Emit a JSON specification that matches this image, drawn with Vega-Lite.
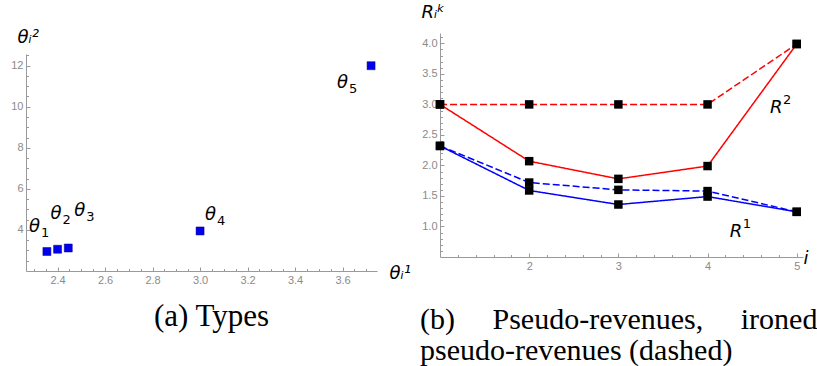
{
  "$schema": "https://vega.github.io/schema/vega-lite/v6.json",
  "padding": {"left": 10, "top": 3, "right": 0, "bottom": 0},
  "bounds": "flush",
  "spacing": 63,
  "config": {
    "view": {"stroke": null},
    "axis": {
      "grid": false,
      "domainColor": "#9a9a9a",
      "domainWidth": 1,
      "tickColor": "#9a9a9a",
      "tickWidth": 1,
      "labelColor": "#8a8a8a",
      "labelFont": "Liberation Sans",
      "labelFontSize": 11,
      "labelFlush": false,
      "labelOverlap": false,
      "titleFont": "DejaVu Sans",
      "titleFontStyle": "italic",
      "titleFontWeight": "normal",
      "titleFontSize": 18,
      "titleColor": "#000000",
      "titleAngle": 0,
      "titleAlign": "left",
      "titleBaseline": "alphabetic"
    },
    "title": {"font": "Liberation Serif", "fontSize": 30, "fontWeight": "normal", "color": "#000000"}
  },
  "hconcat": [
    {
      "width": 351,
      "height": 238,
      "title": {"text": "(a) Types", "orient": "bottom", "anchor": "middle", "frame": "group", "offset": 15, "dx": 10, "fontSize": 31},
      "data": {"values": [
        {"k": 1, "sym": "θ", "sub": "1", "t1": 2.355, "t2": 2.95},
        {"k": 2, "sym": "θ", "sub": "2", "t1": 2.40, "t2": 3.06},
        {"k": 3, "sym": "θ", "sub": "3", "t1": 2.445, "t2": 3.12},
        {"k": 4, "sym": "θ", "sub": "4", "t1": 3.0, "t2": 3.95},
        {"k": 5, "sym": "θ", "sub": "5", "t1": 3.72, "t2": 12.0}
      ]},
      "encoding": {
        "x": {
          "field": "t1", "type": "quantitative",
          "scale": {"domain": [2.267, 3.745], "zero": false, "nice": false},
          "axis": {
            "title": "θᵢ¹", "titleX": 363, "titleY": 7,
            "values": [2.3, 2.35, 2.4, 2.45, 2.5, 2.55, 2.6, 2.65, 2.7, 2.75, 2.8, 2.85, 2.9, 2.95, 3.0, 3.05, 3.1, 3.15, 3.2, 3.25, 3.3, 3.35, 3.4, 3.45, 3.5, 3.55, 3.6, 3.65, 3.7],
            "labelExpr": "abs(datum.value*5 - round(datum.value*5)) < 0.001 && datum.value > 2.35 ? format(datum.value, '.1f') : ''",
            "tickSize": {"condition": {"test": "abs(datum.value*5 - round(datum.value*5)) < 0.001", "value": -4}, "value": -2.5},
            "labelPadding": 7
          }
        },
        "y": {
          "field": "t2", "type": "quantitative",
          "scale": {"domain": [2, 12.57], "range": [238, 21], "zero": false, "nice": false},
          "axis": {
            "title": "θᵢ²", "titleX": -9, "titleY": 9,
            "values": [2.5, 3, 3.5, 4, 4.5, 5, 5.5, 6, 6.5, 7, 7.5, 8, 8.5, 9, 9.5, 10, 10.5, 11, 11.5, 12, 12.5],
            "labelExpr": "datum.value % 2 === 0 && datum.value >= 4 ? format(datum.value, 'd') : ''",
            "tickSize": {"condition": {"test": "datum.value % 2 === 0", "value": -4}, "value": -2.5},
            "labelPadding": 7
          }
        }
      },
      "layer": [
        {"mark": {"type": "square", "size": 64, "filled": true, "color": "#0000ee", "opacity": 1, "stroke": "#00007a", "strokeWidth": 0.5}},
        {"transform": [{"filter": "datum.k === 1"}], "mark": {"type": "text", "align": "left", "baseline": "alphabetic", "dx": -18, "dy": -19, "font": "DejaVu Sans", "fontStyle": "italic", "fontSize": 18, "color": "#000000"}, "encoding": {"text": {"field": "sym"}}},
        {"transform": [{"filter": "datum.k === 1"}], "mark": {"type": "text", "align": "left", "baseline": "alphabetic", "dx": -6, "dy": -14, "font": "DejaVu Sans", "fontSize": 13, "color": "#000000"}, "encoding": {"text": {"field": "sub"}}},
        {"transform": [{"filter": "datum.k === 2"}], "mark": {"type": "text", "align": "left", "baseline": "alphabetic", "dx": -7, "dy": -30, "font": "DejaVu Sans", "fontStyle": "italic", "fontSize": 18, "color": "#000000"}, "encoding": {"text": {"field": "sym"}}},
        {"transform": [{"filter": "datum.k === 2"}], "mark": {"type": "text", "align": "left", "baseline": "alphabetic", "dx": 5, "dy": -25, "font": "DejaVu Sans", "fontSize": 13, "color": "#000000"}, "encoding": {"text": {"field": "sub"}}},
        {"transform": [{"filter": "datum.k === 3"}], "mark": {"type": "text", "align": "left", "baseline": "alphabetic", "dx": 6, "dy": -32, "font": "DejaVu Sans", "fontStyle": "italic", "fontSize": 18, "color": "#000000"}, "encoding": {"text": {"field": "sym"}}},
        {"transform": [{"filter": "datum.k === 3"}], "mark": {"type": "text", "align": "left", "baseline": "alphabetic", "dx": 18, "dy": -27, "font": "DejaVu Sans", "fontSize": 13, "color": "#000000"}, "encoding": {"text": {"field": "sub"}}},
        {"transform": [{"filter": "datum.k === 4"}], "mark": {"type": "text", "align": "left", "baseline": "alphabetic", "dx": 5, "dy": -11, "font": "DejaVu Sans", "fontStyle": "italic", "fontSize": 18, "color": "#000000"}, "encoding": {"text": {"field": "sym"}}},
        {"transform": [{"filter": "datum.k === 4"}], "mark": {"type": "text", "align": "left", "baseline": "alphabetic", "dx": 17, "dy": -6, "font": "DejaVu Sans", "fontSize": 13, "color": "#000000"}, "encoding": {"text": {"field": "sub"}}},
        {"transform": [{"filter": "datum.k === 5"}], "mark": {"type": "text", "align": "left", "baseline": "alphabetic", "dx": -34, "dy": 22, "font": "DejaVu Sans", "fontStyle": "italic", "fontSize": 18, "color": "#000000"}, "encoding": {"text": {"field": "sym"}}},
        {"transform": [{"filter": "datum.k === 5"}], "mark": {"type": "text", "align": "left", "baseline": "alphabetic", "dx": -22, "dy": 27, "font": "DejaVu Sans", "fontSize": 13, "color": "#000000"}, "encoding": {"text": {"field": "sub"}}}
      ]
    },
    {
      "width": 363,
      "height": 224,
      "title": {"text": ["(b)\u00a0\u00a0\u00a0\u00a0\u00a0Pseudo-revenues,\u00a0\u00a0\u00a0\u00a0\u00a0ironed", "pseudo-revenues (dashed)"], "orient": "bottom", "anchor": "start", "frame": "group", "offset": 32, "dx": -20, "lineHeight": 31},
      "encoding": {
        "x": {
          "field": "i", "type": "quantitative",
          "scale": {"domain": [1, 5.07], "zero": false, "nice": false},
          "axis": {
            "title": "i", "titleX": 363, "titleY": 6,
            "values": [1.2, 1.4, 1.6, 1.8, 2, 2.2, 2.4, 2.6, 2.8, 3, 3.2, 3.4, 3.6, 3.8, 4, 4.2, 4.4, 4.6, 4.8, 5],
            "labelExpr": "datum.value % 1 === 0 ? format(datum.value, 'd') : ''",
            "tickSize": {"condition": {"test": "datum.value % 1 === 0", "value": -4}, "value": -2.5},
            "labelPadding": 7
          }
        },
        "y": {
          "field": "R", "type": "quantitative",
          "scale": {"domain": [0.5, 4.17], "zero": false, "nice": false},
          "axis": {
            "title": "Rᵢᵏ", "titleX": -19, "titleY": -16,
            "values": [0.6, 0.7, 0.8, 0.9, 1.0, 1.1, 1.2, 1.3, 1.4, 1.5, 1.6, 1.7, 1.8, 1.9, 2.0, 2.1, 2.2, 2.3, 2.4, 2.5, 2.6, 2.7, 2.8, 2.9, 3.0, 3.1, 3.2, 3.3, 3.4, 3.5, 3.6, 3.7, 3.8, 3.9, 4.0, 4.1],
            "labelExpr": "abs(datum.value*2 - round(datum.value*2)) < 0.001 && datum.value >= 0.99 ? format(datum.value, '.1f') : ''",
            "tickSize": {"condition": {"test": "abs(datum.value*2 - round(datum.value*2)) < 0.001", "value": -4}, "value": -2.5},
            "labelPadding": 7
          }
        }
      },
      "layer": [
        {
          "data": {"values": [
            {"i": 1, "R": 3.0, "series": "R2", "kind": "solid"},
            {"i": 2, "R": 2.07, "series": "R2", "kind": "solid"},
            {"i": 3, "R": 1.78, "series": "R2", "kind": "solid"},
            {"i": 4, "R": 1.99, "series": "R2", "kind": "solid"},
            {"i": 5, "R": 3.99, "series": "R2", "kind": "solid"},
            {"i": 1, "R": 3.0, "series": "R2", "kind": "dashed"},
            {"i": 2, "R": 3.0, "series": "R2", "kind": "dashed"},
            {"i": 3, "R": 3.0, "series": "R2", "kind": "dashed"},
            {"i": 4, "R": 3.0, "series": "R2", "kind": "dashed"},
            {"i": 5, "R": 3.99, "series": "R2", "kind": "dashed"},
            {"i": 1, "R": 2.32, "series": "R1", "kind": "solid"},
            {"i": 2, "R": 1.59, "series": "R1", "kind": "solid"},
            {"i": 3, "R": 1.36, "series": "R1", "kind": "solid"},
            {"i": 4, "R": 1.49, "series": "R1", "kind": "solid"},
            {"i": 5, "R": 1.24, "series": "R1", "kind": "solid"},
            {"i": 1, "R": 2.32, "series": "R1", "kind": "dashed"},
            {"i": 2, "R": 1.72, "series": "R1", "kind": "dashed"},
            {"i": 3, "R": 1.60, "series": "R1", "kind": "dashed"},
            {"i": 4, "R": 1.58, "series": "R1", "kind": "dashed"},
            {"i": 5, "R": 1.24, "series": "R1", "kind": "dashed"}
          ]},
          "layer": [
            {
              "mark": {"type": "line", "strokeWidth": 1.5},
              "encoding": {
                "color": {"field": "series", "type": "nominal", "scale": {"domain": ["R1", "R2"], "range": ["#0000ff", "#ff0000"]}, "legend": null},
                "strokeDash": {"field": "kind", "type": "nominal", "scale": {"domain": ["solid", "dashed"], "range": [[1, 0], [7, 3]]}, "legend": null}
              }
            },
            {"mark": {"type": "square", "size": 72, "filled": true, "color": "#000000", "opacity": 1}}
          ]
        },
        {
          "data": {"values": [
            {"i": 4.7, "R": 2.86, "base": "R", "sup": "2"},
            {"i": 4.25, "R": 0.83, "base": "R", "sup": "1"}
          ]},
          "layer": [
            {
              "mark": {"type": "text", "align": "left", "baseline": "alphabetic", "font": "DejaVu Sans", "fontStyle": "italic", "fontSize": 18, "color": "#000000"},
              "encoding": {"text": {"field": "base"}}
            },
            {
              "mark": {"type": "text", "align": "left", "baseline": "alphabetic", "dx": 13, "dy": -9, "font": "DejaVu Sans", "fontSize": 13, "color": "#000000"},
              "encoding": {"text": {"field": "sup"}}
            }
          ]
        }
      ]
    }
  ]
}
